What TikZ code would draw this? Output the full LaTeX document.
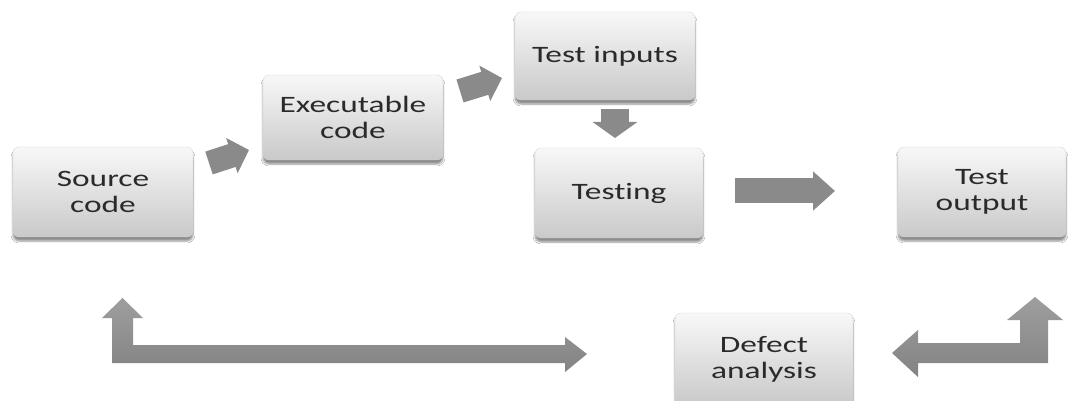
\documentclass[tikz,border=0pt]{standalone}
\usepackage{fontspec}
\setmainfont{Carlito}[FakeStretch=1.42, Ligatures=NoCommon, RawFeature={-liga;-dlig}]
\usetikzlibrary{arrows.meta,shadows.blur}
\definecolor{txt}{HTML}{2A2A2A}
\definecolor{boxtop}{HTML}{F8F8F8}
\definecolor{boxbot}{HTML}{C9C9C9}
\definecolor{arr}{HTML}{8A8A8A}
\definecolor{arrtop}{HTML}{9E9E9E}
\definecolor{arrbot}{HTML}{838383}
\tikzset{
  procbox/.style={rounded corners=6pt, top color=boxtop, bottom color=boxbot,
    draw=boxbot!80!white, line width=0.3pt,
    blur shadow={shadow xshift=0pt, shadow yshift=-4pt, shadow blur steps=6, shadow opacity=45},
    text=txt, align=center, inner sep=0pt,
    font=\fontsize{23.5}{26}\selectfont},
  blockarrow/.style={draw=arr, line cap=butt, line width=#1},
  lshape/.style={top color=arrtop, bottom color=arrbot, draw=none}
}
\begin{document}
\begin{tikzpicture}[x=1pt,y=-1pt]
\useasboundingbox (0,0) rectangle (1072,401);
\clip (0,0) rectangle (1072,401);
\fill[white] (0,0) rectangle (1072,401);

\node[procbox, minimum width=180pt, minimum height=90pt] (src) at (103,192) {Source\\code};
\node[procbox, minimum width=180pt, minimum height=85pt] (exe) at (353,117.5) {Executable\\code};
\node[procbox, minimum width=180pt, minimum height=88pt] (ti) at (605,56) {Test inputs};
\node[procbox, minimum width=168pt, minimum height=90pt] (tst) at (619,193) {Testing};
\node[procbox, minimum width=168pt, minimum height=90pt] (to) at (982,192) {Test\\output};
\node[procbox, minimum width=178pt, minimum height=92pt] (def) at (764,359) {Defect\\analysis};

% small block arrows between boxes
\coordinate (a1s) at (209,163); \coordinate (a1e) at (249,150);
\coordinate (a2s) at (460,91);  \coordinate (a2e) at (502,78);
\coordinate (a3s) at (615,109); \coordinate (a3e) at (615,138);
\coordinate (a4s) at (735,191); \coordinate (a4e) at (835,191);
\draw[blockarrow=24pt, -{Triangle[width=36pt,length=18pt]}, arr] (a1s) -- (a1e);
\draw[blockarrow=24pt, -{Triangle[width=36pt,length=18pt]}, arr] (a2s) -- (a2e);
\draw[blockarrow=28pt, -{Triangle[width=44pt,length=16pt]}, arr] (a3s) -- (a3e);
\draw[blockarrow=25pt, -{Triangle[width=38pt,length=22pt]}, arr] (a4s) -- (a4e);

% L-shaped bent arrows
\path[lshape] (112,363) -- (112,318) -- (102,318) -- (122.5,298) -- (143,318) -- (133,318)
  -- (133,345) -- (565,345) -- (565,337) -- (587,354) -- (565,372) -- (565,363) -- cycle;
\path[lshape] (1048,363) -- (918,363) -- (918,377) -- (892,353) -- (918,330) -- (918,343)
  -- (1020,343) -- (1020,320) -- (1007,320) -- (1035,297) -- (1063,320) -- (1048,320) -- cycle;
\end{tikzpicture}
\end{document}
